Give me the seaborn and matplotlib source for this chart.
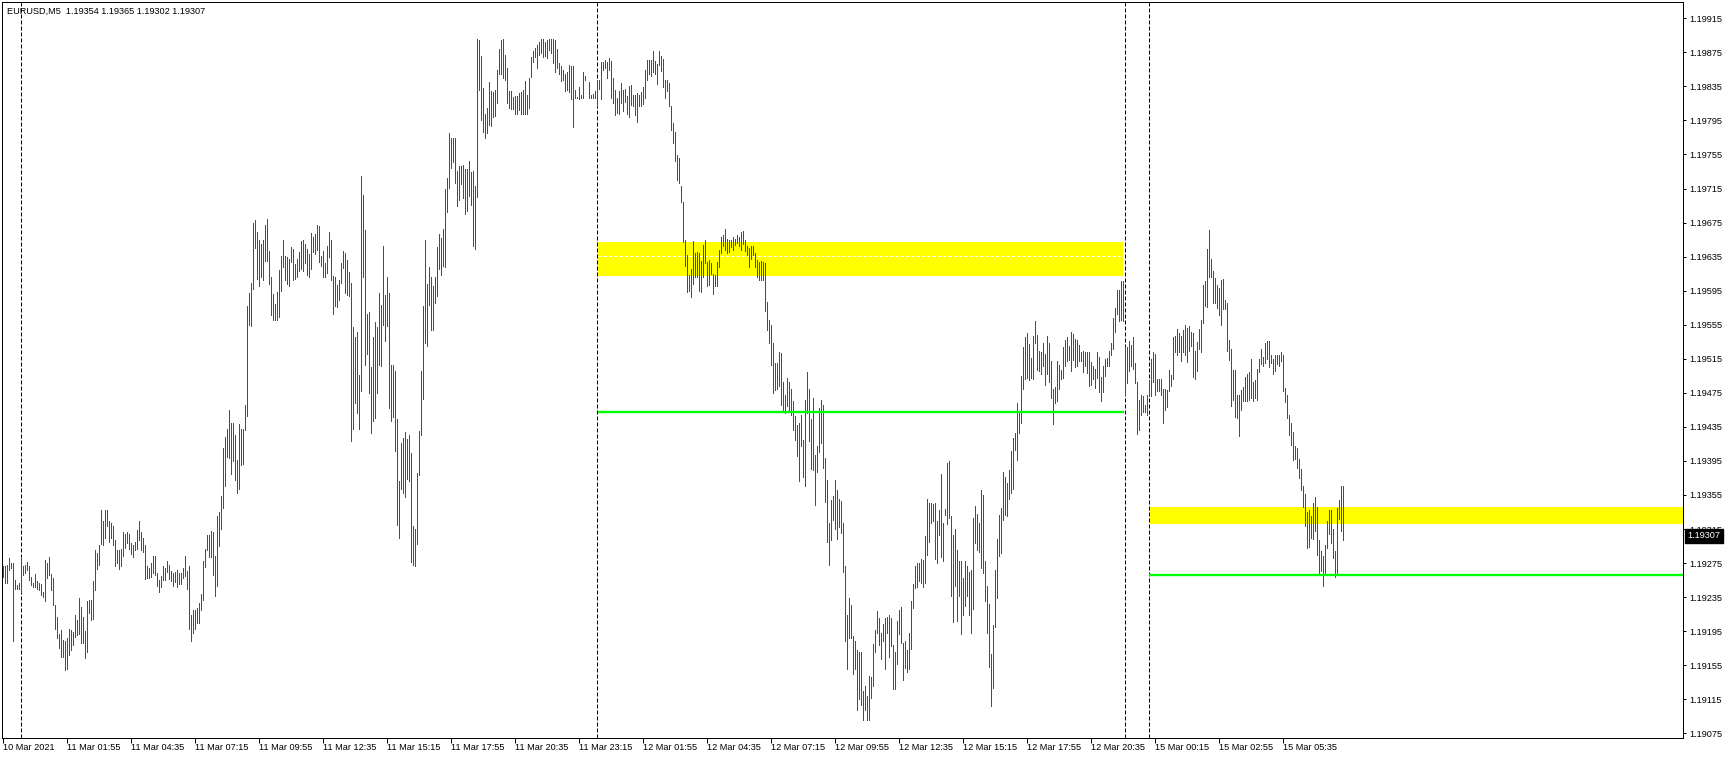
import numpy as np
import pandas as pd
import matplotlib
matplotlib.use('Agg')
import matplotlib.pyplot as plt
from matplotlib.transforms import blended_transform_factory
import seaborn as sns

# =============================================================================
# DATA (prices in points, 1 point = 0.00001)
# =============================================================================
symbol = 'EURUSD,M5'
last_ohlc = [1.19354, 1.19365, 1.19302, 1.19307]

bar_high = [
    119271, 119271, 119273, 119281, 119275, 119275, 119255, 119249, 119251, 119282,  # 0
    119272, 119273, 119276, 119272, 119259, 119251, 119262, 119254, 119252, 119250,  # 10
    119241, 119279, 119275, 119282, 119262, 119257, 119226, 119212, 119192, 119196,  # 20
    119185, 119183, 119187, 119197, 119196, 119194, 119214, 119208, 119234, 119223,  # 30
    119212, 119195, 119231, 119232, 119232, 119254, 119290, 119287, 119296, 119337,  # 40
    119324, 119337, 119337, 119324, 119322, 119318, 119302, 119290, 119290, 119291,  # 50
    119311, 119309, 119311, 119309, 119299, 119296, 119300, 119314, 119324, 119312,  # 60
    119304, 119296, 119272, 119269, 119275, 119283, 119283, 119263, 119255, 119260,  # 70
    119271, 119269, 119278, 119273, 119266, 119263, 119265, 119267, 119263, 119263,  # 80
    119269, 119283, 119266, 119272, 119214, 119220, 119220, 119222, 119228, 119239,  # 90
    119277, 119292, 119308, 119308, 119313, 119311, 119283, 119330, 119335, 119354,  # 100
    119410, 119423, 119433, 119455, 119439, 119440, 119425, 119396, 119438, 119432,  # 110
    119433, 119461, 119577, 119592, 119604, 119675, 119678, 119664, 119654, 119650,  # 120
    119655, 119672, 119679, 119642, 119611, 119591, 119579, 119593, 119619, 119636,  # 130
    119654, 119636, 119634, 119632, 119646, 119644, 119626, 119632, 119640, 119653,  # 140
    119655, 119650, 119644, 119638, 119663, 119658, 119662, 119672, 119671, 119636,  # 150
    119642, 119628, 119647, 119664, 119654, 119612, 119611, 119602, 119608, 119627,  # 160
    119642, 119639, 119631, 119617, 119604, 119552, 119541, 119547, 119496, 119730,  # 170
    119707, 119666, 119568, 119570, 119505, 119540, 119558, 119552, 119592, 119578,  # 180
    119648, 119590, 119611, 119592, 119508, 119508, 119501, 119444, 119371, 119416,  # 190
    119422, 119429, 119421, 119426, 119404, 119318, 119315, 119381, 119430, 119501,  # 200
    119577, 119655, 119603, 119623, 119611, 119600, 119611, 119646, 119661, 119657,  # 210
    119667, 119714, 119727, 119780, 119774, 119774, 119774, 119735, 119742, 119742,  # 220
    119743, 119738, 119738, 119747, 119734, 119735, 119718, 119891, 119889, 119871,  # 230
    119833, 119802, 119809, 119840, 119830, 119828, 119831, 119854, 119879, 119889,  # 240
    119891, 119872, 119857, 119830, 119830, 119823, 119824, 119824, 119827, 119828,  # 250
    119831, 119841, 119825, 119845, 119869, 119876, 119880, 119883, 119887, 119891,  # 260
    119891, 119887, 119889, 119891, 119891, 119891, 119889, 119879, 119862, 119859,  # 270
    119854, 119850, 119852, 119860, 119859, 119859, 119831, 119823, 119834, 119825,  # 280
    119852, 119847, 119843, 119840, 119825, 119826, 119829, 119842, 119843, 119864,  # 290
    119864, 119866, 119864, 119868, 119865, 119845, 119831, 119821, 119830, 119839,  # 300
    119831, 119832, 119824, 119836, 119837, 119825, 119825, 119827, 119825, 119828,  # 310
    119834, 119854, 119866, 119866, 119866, 119877, 119865, 119861, 119877, 119871,  # 320
    119867, 119843, 119843, 119839, 119812, 119792, 119781, 119754, 119751, 119718,  # 330
    119699, 119654, 119637, 119613, 119621, 119653, 119639, 119640, 119639, 119630,  # 340
    119649, 119654, 119629, 119631, 119628, 119615, 119613, 119629, 119643, 119658,  # 350
    119660, 119667, 119656, 119655, 119654, 119658, 119656, 119660, 119658, 119664,  # 360
    119665, 119654, 119647, 119645, 119647, 119648, 119639, 119631, 119629, 119630,  # 370
    119629, 119627, 119582, 119560, 119555, 119534, 119510, 119510, 119523, 119522,  # 380
    119488, 119472, 119492, 119488, 119480, 119465, 119448, 119437, 119440, 119449,  # 390
    119420, 119466, 119499, 119480, 119444, 119469, 119402, 119412, 119457, 119466,  # 400
    119461, 119398, 119372, 119322, 119349, 119354, 119373, 119361, 119350, 119348,  # 410
    119322, 119272, 119214, 119234, 119226, 119189, 119184, 119173, 119170, 119171,  # 420
    119125, 119130, 119119, 119142, 119141, 119180, 119196, 119219, 119210, 119193,  # 430
    119204, 119211, 119212, 119214, 119210, 119179, 119170, 119207, 119220, 119223,  # 440
    119181, 119184, 119173, 119193, 119230, 119250, 119271, 119275, 119275, 119280,  # 450
    119279, 119307, 119350, 119346, 119346, 119344, 119345, 119324, 119337, 119380,  # 460
    119322, 119339, 119393, 119395, 119330, 119308, 119315, 119290, 119277, 119278,  # 470
    119258, 119278, 119272, 119264, 119267, 119328, 119342, 119333, 119322, 119361,  # 480
    119355, 119277, 119248, 119227, 119168, 119202, 119267, 119303, 119331, 119340,  # 490
    119382, 119376, 119369, 119384, 119407, 119422, 119428, 119463, 119452, 119495,  # 500
    119529, 119541, 119545, 119532, 119516, 119542, 119559, 119543, 119524, 119523,  # 510
    119533, 119521, 119542, 119533, 119512, 119480, 119482, 119512, 119508, 119502,  # 520
    119529, 119537, 119540, 119530, 119546, 119544, 119538, 119537, 119531, 119523,  # 530
    119524, 119523, 119523, 119523, 119511, 119506, 119503, 119523, 119517, 119494,  # 540
    119507, 119515, 119516, 119524, 119534, 119563, 119575, 119596, 119596, 119606,  # 550
    119606, 119529, 119529, 119536, 119531, 119540, 119510, 119488, 119467, 119472,  # 560
    119471, 119461, 119472, 119490, 119515, 119523, 119521, 119491, 119491, 119491,  # 570
    119480, 119480, 119478, 119502, 119496, 119541, 119542, 119550, 119545, 119542,  # 580
    119549, 119555, 119551, 119553, 119547, 119545, 119524, 119535, 119550, 119561,  # 590
    119602, 119606, 119644, 119666, 119632, 119618, 119610, 119602, 119598, 119608,  # 600
    119609, 119584, 119581, 119537, 119527, 119502, 119502, 119472, 119472, 119478,  # 610
    119482, 119493, 119497, 119500, 119515, 119488, 119490, 119503, 119515, 119527,  # 620
    119517, 119534, 119536, 119536, 119520, 119515, 119520, 119520, 119520, 119523,  # 630
    119519, 119481, 119473, 119449, 119439, 119429, 119412, 119410, 119397, 119386,  # 640
    119365, 119356, 119335, 119337, 119330, 119345, 119353, 119341, 119302, 119289,  # 650
    119283, 119296, 119324, 119337, 119337, 119315, 119289, 119340, 119349, 119366,  # 660
    119365,                                                                          # 670
]

bar_low = [
    119259, 119251, 119251, 119267, 119269, 119184, 119245, 119245, 119244, 119241,  # 0
    119261, 119263, 119267, 119255, 119249, 119247, 119247, 119245, 119243, 119237,  # 10
    119235, 119230, 119257, 119261, 119243, 119226, 119198, 119187, 119175, 119165,  # 20
    119165, 119149, 119150, 119167, 119173, 119179, 119188, 119190, 119192, 119181,  # 30
    119181, 119164, 119170, 119216, 119208, 119209, 119243, 119268, 119273, 119297,  # 40
    119296, 119305, 119318, 119300, 119304, 119296, 119272, 119275, 119268, 119271,  # 50
    119283, 119293, 119298, 119291, 119286, 119282, 119290, 119291, 119302, 119290,  # 60
    119288, 119256, 119257, 119257, 119259, 119263, 119261, 119248, 119241, 119247,  # 70
    119255, 119255, 119264, 119256, 119254, 119248, 119253, 119247, 119250, 119250,  # 80
    119257, 119260, 119245, 119198, 119183, 119193, 119198, 119205, 119205, 119220,  # 90
    119232, 119270, 119290, 119282, 119282, 119261, 119236, 119248, 119295, 119315,  # 100
    119340, 119366, 119400, 119398, 119380, 119395, 119373, 119357, 119362, 119390,  # 110
    119391, 119431, 119448, 119555, 119553, 119597, 119645, 119609, 119600, 119611,  # 120
    119608, 119630, 119630, 119603, 119566, 119561, 119561, 119561, 119564, 119595,  # 130
    119623, 119608, 119603, 119600, 119629, 119607, 119609, 119611, 119618, 119620,  # 140
    119618, 119628, 119613, 119611, 119621, 119640, 119638, 119643, 119629, 119624,  # 150
    119611, 119611, 119616, 119634, 119608, 119568, 119577, 119576, 119584, 119604,  # 160
    119622, 119592, 119590, 119589, 119418, 119433, 119463, 119451, 119433, 119477,  # 170
    119611, 119508, 119521, 119475, 119428, 119442, 119446, 119475, 119508, 119507,  # 180
    119555, 119536, 119553, 119457, 119442, 119447, 119407, 119320, 119305, 119362,  # 190
    119357, 119353, 119374, 119371, 119276, 119273, 119272, 119297, 119379, 119425,  # 200
    119468, 119534, 119530, 119578, 119549, 119549, 119581, 119589, 119621, 119613,  # 210
    119624, 119623, 119687, 119716, 119739, 119746, 119722, 119694, 119702, 119720,  # 220
    119704, 119685, 119689, 119706, 119696, 119648, 119644, 119705, 119831, 119796,  # 230
    119781, 119774, 119780, 119790, 119788, 119799, 119800, 119816, 119849, 119850,  # 240
    119845, 119842, 119816, 119809, 119808, 119808, 119802, 119802, 119807, 119802,  # 250
    119802, 119802, 119802, 119810, 119846, 119864, 119869, 119857, 119872, 119874,  # 260
    119870, 119871, 119868, 119878, 119874, 119863, 119852, 119856, 119850, 119841,  # 270
    119842, 119830, 119831, 119828, 119820, 119787, 119821, 119821, 119820, 119821,  # 280
    119821, 119842, 119842, 119821, 119821, 119821, 119821, 119812, 119832, 119820,  # 290
    119854, 119856, 119845, 119854, 119821, 119816, 119801, 119804, 119802, 119816,  # 300
    119806, 119817, 119803, 119799, 119813, 119812, 119801, 119793, 119812, 119812,  # 310
    119814, 119821, 119843, 119849, 119847, 119852, 119849, 119838, 119860, 119853,  # 320
    119834, 119821, 119829, 119812, 119784, 119768, 119747, 119725, 119721, 119699,  # 330
    119652, 119624, 119593, 119595, 119588, 119603, 119611, 119611, 119595, 119594,  # 340
    119611, 119628, 119600, 119602, 119615, 119591, 119600, 119600, 119623, 119639,  # 350
    119647, 119643, 119639, 119641, 119646, 119643, 119649, 119651, 119647, 119643,  # 360
    119650, 119642, 119637, 119623, 119632, 119637, 119623, 119611, 119607, 119607,  # 370
    119608, 119571, 119549, 119534, 119508, 119475, 119478, 119480, 119483, 119461,  # 380
    119453, 119451, 119459, 119453, 119449, 119431, 119420, 119401, 119371, 119412,  # 390
    119376, 119365, 119451, 119418, 119386, 119384, 119343, 119382, 119406, 119416,  # 400
    119387, 119347, 119300, 119273, 119302, 119326, 119315, 119303, 119317, 119310,  # 410
    119264, 119183, 119151, 119187, 119187, 119145, 119150, 119102, 119115, 119108,  # 420
    119091, 119102, 119091, 119091, 119116, 119131, 119170, 119193, 119179, 119162,  # 430
    119184, 119151, 119193, 119165, 119177, 119127, 119127, 119157, 119192, 119181,  # 440
    119138, 119152, 119147, 119151, 119174, 119222, 119246, 119247, 119254, 119251,  # 450
    119247, 119252, 119284, 119300, 119322, 119324, 119280, 119275, 119308, 119282,  # 460
    119277, 119331, 119321, 119328, 119236, 119206, 119248, 119207, 119236, 119192,  # 470
    119214, 119225, 119236, 119214, 119193, 119221, 119299, 119290, 119288, 119269,  # 480
    119263, 119230, 119193, 119153, 119107, 119128, 119200, 119234, 119283, 119287,  # 490
    119326, 119331, 119330, 119350, 119357, 119362, 119408, 119396, 119428, 119440,  # 500
    119480, 119491, 119492, 119490, 119492, 119491, 119534, 119502, 119501, 119497,  # 510
    119506, 119484, 119497, 119488, 119469, 119438, 119463, 119465, 119480, 119491,  # 520
    119492, 119507, 119512, 119514, 119501, 119514, 119505, 119506, 119512, 119512,  # 530
    119500, 119507, 119498, 119483, 119484, 119491, 119481, 119492, 119476, 119465,  # 540
    119476, 119495, 119506, 119507, 119519, 119527, 119546, 119568, 119559, 119560,  # 550
    119559, 119472, 119486, 119501, 119506, 119503, 119487, 119427, 119431, 119449,  # 560
    119453, 119453, 119449, 119471, 119471, 119488, 119472, 119477, 119477, 119472,  # 570
    119439, 119455, 119458, 119477, 119483, 119491, 119523, 119520, 119523, 119512,  # 580
    119523, 119519, 119511, 119524, 119530, 119494, 119491, 119501, 119526, 119523,  # 590
    119557, 119577, 119576, 119611, 119611, 119581, 119580, 119575, 119566, 119555,  # 600
    119574, 119573, 119524, 119514, 119460, 119467, 119447, 119445, 119424, 119455,  # 610
    119465, 119465, 119465, 119467, 119469, 119465, 119469, 119467, 119499, 119509,  # 620
    119506, 119510, 119515, 119505, 119510, 119497, 119501, 119509, 119507, 119512,  # 630
    119477, 119464, 119445, 119426, 119414, 119396, 119397, 119387, 119375, 119361,  # 640
    119341, 119318, 119293, 119294, 119305, 119303, 119313, 119285, 119262, 119266,  # 650
    119248, 119262, 119293, 119309, 119298, 119281, 119259, 119262, 119327, 119313,  # 660
    119302,                                                                          # 670
]

# time scale: a label every 32 bars (2h40m on M5)
time_tick_bars = [0, 32, 64, 96, 128, 160, 192, 224, 256, 288, 320,
                  352, 384, 416, 448, 480, 512, 544, 576, 608, 640]
time_tick_labels = ['10 Mar 2021', '11 Mar 01:55', '11 Mar 04:35', '11 Mar 07:15',
                    '11 Mar 09:55', '11 Mar 12:35', '11 Mar 15:15', '11 Mar 17:55',
                    '11 Mar 20:35', '11 Mar 23:15', '12 Mar 01:55', '12 Mar 04:35',
                    '12 Mar 07:15', '12 Mar 09:55', '12 Mar 12:35', '12 Mar 15:15',
                    '12 Mar 17:55', '12 Mar 20:35', '15 Mar 00:15', '15 Mar 02:55',
                    '15 Mar 05:35']

# vertical separators (bar index): 11 Mar 00:00, 12 Mar 00:00, 12 Mar 22:00, 15 Mar 00:00
separator_bars = [9, 297, 561, 573]

# drawn zones: start bar, end bar (None = to the right edge), low, high
zone_upper = (297.5, 560.2, 1.19612, 1.19652)
zone_upper_mid = 1.19636
zone_lower = (573.5, None, 1.19321, 1.19341)
level_upper = (297.5, 560.5, 1.19452)
level_lower = (573.0, None, 1.19261)

price_ticks = [1.19075, 1.19115, 1.19155, 1.19195, 1.19235, 1.19275, 1.19315,
               1.19355, 1.19395, 1.19435, 1.19475, 1.19515, 1.19555, 1.19595,
               1.19635, 1.19675, 1.19715, 1.19755, 1.19795, 1.19835, 1.19875, 1.19915]

# =============================================================================
# PLOT
# =============================================================================
sns.set_theme(style='ticks')
plt.rcParams['font.family'] = ['Liberation Sans', 'DejaVu Sans']
plt.rcParams['axes.linewidth'] = 0.72

W, H = 1729, 759
fig = plt.figure(figsize=(W / 100, H / 100), dpi=100, facecolor='white')
ax = fig.add_axes([2 / W, 21 / H, 1681 / W, 736 / H])
ax.set_facecolor('white')

x_left, x_right = -0.5, 840.0
ax.set_xlim(x_left, x_right)
ax.set_ylim(1.190695, 1.199341)

# day separators
for b in separator_bars:
    ax.axvline(b, color='black', lw=0.72, linestyle=(0, (4, 2)), zorder=1)

# yellow zones
z0, z1, zlo, zhi = zone_upper
ax.fill_between([z0, z1], zlo, zhi, color='#ffff00', lw=0, zorder=1.2)
ax.hlines(zone_upper_mid, z0, z1, colors='white', lw=0.72,
          linestyles=[(0, (3.3, 2))], zorder=1.3)
z0, z1, zlo, zhi = zone_lower
ax.fill_between([z0, x_right if z1 is None else z1], zlo, zhi,
                color='#ffff00', lw=0, zorder=1.2)

# price bars (high-low) drawn with seaborn, one unit per bar
idx = np.arange(len(bar_high))
bars = pd.DataFrame({
    'bar': np.repeat(idx, 2),
    'price': np.column_stack([bar_low, bar_high]).ravel() / 1e5,
})
sns.lineplot(data=bars, x='bar', y='price', units='bar', estimator=None,
             sort=False, color='#ff0000', lw=0.68, antialiased=False, ax=ax, zorder=2)

# green levels
for l0, l1, lvl in (level_upper, level_lower):
    ax.hlines(lvl, l0, x_right if l1 is None else l1, colors='#00ff00',
              lw=1.7, zorder=3)

ax.set_xlim(x_left, x_right)
ax.set_ylim(1.190695, 1.199341)
ax.set_xlabel('')
ax.set_ylabel('')

# axes / ticks
for s in ax.spines.values():
    s.set_visible(True)
    s.set_color('black')
    s.set_linewidth(0.72)

ax.set_xticks(time_tick_bars)
ax.set_xticklabels(time_tick_labels, ha='left')
ax.tick_params(axis='x', bottom=True, top=False, direction='out', length=3.3,
               width=0.72, pad=0.6, labelsize=6.6, colors='black')

ax.yaxis.tick_right()
ax.set_yticks(price_ticks)
ax.set_yticklabels([f'{p:.5f}' for p in price_ticks])
ax.tick_params(axis='y', left=False, right=True, labelleft=False, labelright=True,
               direction='out', length=2.4, width=0.72, pad=2.0, labelsize=6.6,
               colors='black')
ax.grid(False)

# current price box on the scale
trans = blended_transform_factory(ax.transAxes, ax.transData)
ax.text(1.0 + 4.3 / 1681, last_ohlc[3], f'{last_ohlc[3]:.5f}', transform=trans,
        ha='left', va='center', color='white', fontsize=6.6, clip_on=False,
        bbox=dict(boxstyle='square,pad=0.25', fc='black', ec='black'), zorder=10)

# header
header = f'{symbol}  ' + ' '.join(f'{v:.5f}' for v in last_ohlc)
fig.text(7 / W, 1 - 14 / H, header, fontsize=6.6, ha='left', va='baseline',
         color='black')

fig.savefig('out.png', dpi=100, facecolor='white')
